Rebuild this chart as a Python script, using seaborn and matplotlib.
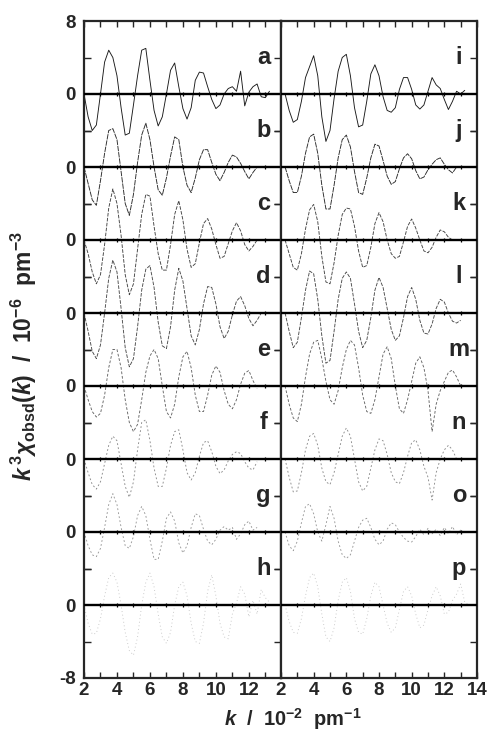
import numpy as np
import pandas as pd
import matplotlib
matplotlib.use("Agg")
import matplotlib.pyplot as plt
import seaborn as sns

# k grid in 10^-2 pm^-1 (left traces start at 2.00, right traces at 2.25)
k_grid = [2.00, 2.25, 2.50, 2.75, 3.00, 3.25, 3.50, 3.75, 4.00, 4.25,
          4.50, 4.75, 5.00, 5.25, 5.50, 5.75, 6.00, 6.25, 6.50, 6.75,
          7.00, 7.25, 7.50, 7.75, 8.00, 8.25, 8.50, 8.75, 9.00, 9.25,
          9.50, 9.75, 10.00, 10.25, 10.50, 10.75, 11.00, 11.25, 11.50, 11.75,
          12.00, 12.25, 12.50, 12.75, 13.00, 13.25, 13.50]

# k^3 chi(k), one list per trace
trace_a = [0, -2.5, -4.0, -3.4, 0, 3.5, 4.8, 4.0, 2.0, -1.5,
           -4.5, -4.3, -1.2, 2.0, 4.8, 5.0, 1.5, -1.8, -3.5, -2.5,
           0, 2.6, 3.4, 0.8, -1.6, -2.75, -1.5, 1.5, 2.4, 2.3,
           0.8, -0.6, -1.6, -1.2, 0, 0.6, 0.8, 0.3, 2.5, -1.3,
           0.2, 0.8, 1.1, -0.3, -0.4, 0.3]
trace_b = [0, -1.8, -3.6, -4.2, -1.5, 1.5, 4.0, 4.2, 3.0, -0.5,
           -4.0, -5.3, -3.0, 0.5, 3.5, 4.8, 3.0, 0, -2.5, -3.1,
           -1.2, 1.2, 3.3, 3.0, 0, -2.0, -2.8, -1.2, 0.8, 1.9,
           1.9, 0.5, -0.8, -1.5, -0.6, 0.5, 1.3, 1.1, 0.4, -0.5,
           -1.3, -0.6, 0]
trace_c = [0, -1.5, -3.5, -4.8, -3.8, -0.5, 3.5, 5.6, 4.0, 0.5,
           -3.8, -6.0, -4.8, -1.0, 2.8, 5.0, 4.8, 1.5, -1.5, -3.3,
           -3.3, -0.5, 2.8, 4.3, 2.2, -1.0, -3.0, -2.6, -0.3, 1.8,
           2.35, 1.2, -0.5, -2.0, -1.8, -0.4, 1.0, 1.9, 1.0, -0.5,
           -1.2, -0.7, 0]
trace_d = [0, -2.0, -4.2, -5.0, -3.5, 0, 3.8, 5.8, 4.5, 0.5,
           -3.8, -5.9, -5.0, -1.5, 2.5, 4.8, 5.2, 2.8, -1.0, -3.6,
           -3.9, -1.5, 2.5, 4.9, 3.5, 0.5, -2.5, -3.5, -1.8, 1.0,
           2.9, 2.8, 1.0, -1.5, -2.8, -2.0, -0.2, 1.3, 1.8, 0.8,
           -0.6, -1.4, -0.8, 0]
trace_e = [0, -1.5, -2.8, -3.4, -3.0, -1.0, 2.0, 4.0, 4.0, 2.0,
           -1.5, -4.0, -5.0, -4.2, -1.5, 1.5, 3.3, 4.0, 3.0, 0,
           -2.8, -3.5, -2.0, 1.0, 3.2, 3.8, 2.0, -1.0, -2.8, -2.8,
           -1.0, 1.2, 2.2, 1.5, -0.5, -2.0, -2.5, -1.5, 0.2, 1.4,
           1.7, 0.6, -0.3]
trace_f = [0, -1.5, -2.8, -3.3, -2.5, -0.5, 1.5, 2.5, 2.0, -0.5,
           -3.0, -4.2, -2.5, 1.0, 4.0, 4.3, 2.0, -1.0, -3.0, -3.0,
           -1.0, 1.5, 3.0, 3.2, 1.0, -1.5, -2.3, -1.5, 0.3, 1.8,
           2.0, 0.8, -0.8, -1.6, -1.2, -0.2, 0.5, 0.8, 0.6, -0.3,
           -1.0, -1.2, -0.3]
trace_g = [0, -1.5, -2.5, -2.7, -1.8, 0.5, 3.0, 4.2, 3.0, 0.5,
           -1.5, -1.8, -0.5, 1.8, 2.8, 1.8, -0.8, -3.0, -3.0, -1.0,
           1.5, 2.2, 1.2, -1.2, -2.3, -1.5, 0.5, 2.0, 1.8, 0.3,
           -1.0, -1.4, -0.8, 0.2, 0.6, 0.2, 0.5, -0.8, -0.2, 0.8,
           1.2, 0.2, 0.5]
trace_h = [0, -2.0, -3.2, -3.1, -1.5, 1.0, 3.0, 3.5, 2.5, 0,
           -3.0, -5.0, -5.5, -3.5, 0, 2.5, 3.5, 2.0, -1.0, -3.5,
           -4.2, -3.0, 0, 2.0, 2.5, 1.0, -2.0, -4.0, -4.2, -2.0,
           1.5, 3.3, 1.0, -2.0, -3.5, -3.7, -1.0, 0.2, 2.0, 1.2,
           -1.3, 0.5, -1.0, 1.7, 0.8, 0.3]

trace_i = [0, -1.8, -3.1, -2.8, -0.8, 1.8, 3.0, 4.2, 2.0, -2.5,
           -5.2, -4.0, -0.5, 2.5, 4.0, 4.35, 2.0, -1.5, -3.6, -3.4,
           -0.8, 2.2, 3.2, 2.0, -0.3, -1.8, -2.0, -1.5, 0.5, 1.8,
           1.8, 0.5, -1.2, -1.65, -1.2, 0.3, 1.8, 1.0, 0.6, -0.6,
           -1.7, -0.8, 0.3, 0.0, 0.4]
trace_j = [0, -1.5, -2.8, -2.8, -1.0, 1.5, 3.3, 3.6, 1.5, -2.0,
           -4.6, -4.6, -2.0, 1.0, 3.0, 3.5, 2.2, -0.5, -2.8, -3.0,
           -1.2, 1.0, 2.5, 2.3, 0.7, -1.0, -1.9, -1.6, -0.2, 1.0,
           1.45, 0.9, -0.4, -1.3, -1.1, -0.3, 0.3, 0.8, 1.0, 0.3,
           -0.3, -0.65, 0]
trace_k = [0, -1.5, -3.0, -3.3, -1.5, 1.2, 3.3, 3.9, 2.0, -1.8,
           -4.6, -4.8, -2.5, 0.5, 2.8, 3.5, 3.4, 1.5, -1.2, -3.0,
           -2.8, -0.8, 1.8, 3.0, 2.0, 0, -1.5, -2.0, -1.8, -0.2,
           1.5, 2.3, 1.3, 0, -1.2, -1.4, -0.8, 0.3, 1.1, 0.9,
           0.3, 0]
trace_l = [0, -2.0, -3.8, -3.2, -0.5, 2.5, 4.6, 4.3, 1.5, -2.5,
           -5.5, -5.2, -2.0, 1.5, 3.8, 4.5, 3.8, 1.0, -2.0, -3.8,
           -3.0, -0.5, 2.5, 3.9, 2.8, 0.5, -1.8, -3.0, -2.5, -0.5,
           1.8, 2.8, 1.5, -0.8, -2.2, -2.3, -1.2, 0.5, 1.5, 1.2,
           0, -0.9, -1.1, -0.8]
trace_m = [0, -2.0, -3.5, -3.9, -2.0, 1.0, 3.5, 4.8, 5.0, 3.0,
           0.5, -1.5, -2.0, -0.5, 2.0, 4.0, 5.0, 4.5, 2.0, -1.0,
           -2.8, -3.0, -1.5, 1.0, 3.5, 4.3, 3.0, 0, -2.5, -3.0,
           -1.5, 0.5, 2.5, 3.2, 2.0, -0.5, -5.0, -2.0, -0.5, 0.5,
           1.5, 1.75, 1.0, 0]
trace_n = [0, -2.0, -3.6, -3.5, -1.5, 1.0, 2.5, 2.8, 1.5, -1.0,
           -2.5, -2.8, -1.5, 0.5, 2.5, 3.4, 2.5, 0, -2.5, -3.5,
           -3.0, -1.0, 1.0, 2.2, 2.0, 0.5, -1.5, -2.5, -2.7, -1.5,
           0.3, 1.8, 2.1, 1.0, -0.8, -2.0, -4.5, -1.5, 0, 1.0,
           1.5, 1.0, 0]
trace_o = [0, -1.5, -2.05, -1.0, 1.0, 2.8, 3.1, 2.0, 0, -1.0,
           0.8, 2.8, 1.5, -1.0, -2.5, -2.9, -2.5, -1.0, 0.5, 1.3,
           1.5, 0.5, -0.8, -1.4, -1.0, 0.3, 1.0, 0.8, 0, -0.6,
           -1.0, -1.1, -0.5, 0.3, -0.3, 0.4, -0.2, 0.3, -0.4, 0.5,
           -0.2, 0.6, -0.3, 0.2, -0.1]
trace_p = [0, -1.8, -3.0, -3.1, -1.5, 1.0, 3.0, 3.5, 2.0, -1.0,
           -3.5, -4.0, -2.5, 0.5, 2.5, 3.0, 1.5, -1.5, -3.0, -3.2,
           -1.5, 1.0, 2.5, 2.0, 0, -2.0, -3.0, -2.5, -0.5, 1.5,
           2.0, 1.0, -1.0, -2.5, -2.2, -0.5, 1.0, 2.0, 1.0, -1.0,
           -0.8, 0.5, 1.2, 2.3, 0.3, 0]

left_traces = [trace_a, trace_b, trace_c, trace_d, trace_e, trace_f, trace_g, trace_h]
right_traces = [trace_i, trace_j, trace_k, trace_l, trace_m, trace_n, trace_o, trace_p]
left_letters = ["a", "b", "c", "d", "e", "f", "g", "h"]
right_letters = ["i", "j", "k", "l", "m", "n", "o", "p"]

step = 8  # vertical offset between traces
# the scanned traces get fainter and more broken further down
row_colors = ["#1a1a1a", "#2a2a2a", "#444444", "#4c4c4c", "#666666", "#8c8c8c", "#999999", "#c4c4c4"]
row_dashes = [(None, None), (6, 1), (4, 1.5), (4, 1.5), (3, 2), (2, 2.5), (2, 2.5), (1, 3)]

sns.set_style("ticks")
plt.rcParams["font.family"] = ["Liberation Sans", "DejaVu Sans"]
plt.rcParams["font.weight"] = "bold"
plt.rcParams["mathtext.fontset"] = "custom"
plt.rcParams["mathtext.rm"] = "Liberation Sans:bold"
plt.rcParams["mathtext.bf"] = "Liberation Sans:bold"
plt.rcParams["mathtext.it"] = "Liberation Sans:italic:bold"

fig = plt.figure(figsize=(4.88, 7.41), dpi=100)
ax1 = fig.add_axes([84 / 488, 63 / 741, 197 / 488, 657 / 741])
ax2 = fig.add_axes([281 / 488, 63 / 741, 196 / 488, 657 / 741], sharey=ax1)

n_rows = len(left_traces)
offsets = [-step * i for i in range(n_rows)]

for ax, traces, letters, kstart, xmax in [(ax1, left_traces, left_letters, 0, 13.95),
                                         (ax2, right_traces, right_letters, 1, 14.0)]:
    for i, (vals, lab) in enumerate(zip(traces, letters)):
        ks = k_grid[kstart:kstart + len(vals)]
        df = pd.DataFrame({"k": ks, "y": np.array(vals) + offsets[i]})
        line = sns.lineplot(data=df, x="k", y="y", ax=ax, color=row_colors[i], lw=0.65,
                            sort=False).lines[-1]
        if row_dashes[i][0] is not None:
            line.set_dashes(row_dashes[i])
        ax.axhline(offsets[i], color="black", lw=1.7, zorder=3)
        ax.plot(list(range(3, 14)), [offsets[i]] * 11, ls="none", marker="|",
                ms=3.5, mew=0.9, color="black")
        ax.text(12.9, offsets[i] + step / 2, lab, fontsize=17, fontweight="bold",
                ha="center", va="center")
    ax.set_xlim(2, xmax)
    ax.set_ylim(-step * n_rows, step)
    ax.set_xlabel("")
    ax.set_ylabel("")
    ax.set_xticks(list(range(2, 15, 2)) if xmax >= 14 else list(range(2, 13, 2)))
    ax.set_xticks(list(range(3, 14, 2)), minor=True)
    ax.tick_params(axis="x", which="both", direction="in", top=True, length=4, width=1,
                   labelsize=13.5, pad=3)
    ax.set_yticks([o + step / 2 for o in offsets] + [o - step / 2 for o in offsets], minor=True)
    for s in ax.spines.values():
        s.set_linewidth(1.6)
    for t in ax.get_xticklabels():
        t.set_fontweight("bold")

yt = [step] + offsets + [-step * n_rows]
ax1.set_yticks(yt)
ax1.set_yticklabels(["8"] + ["0"] * n_rows + ["-8"])
ax1.tick_params(axis="y", which="major", length=0, labelsize=13.5, pad=6)
ax1.tick_params(axis="y", which="minor", direction="in", left=True, right=True, length=5, width=1)
for t in ax1.get_yticklabels():
    t.set_fontweight("bold")
ax2.tick_params(axis="y", which="major", length=0, labelleft=False)
ax2.tick_params(axis="y", which="minor", direction="in", left=False, right=True, length=5, width=1)

fig.text(0.60, 0.030, r"$\mathit{k}$  /  10$^{-2}$  pm$^{-1}$", ha="center", va="center",
         fontsize=14.5, fontweight="bold")
fig.text(0.05, 0.52,
         r"$\mathit{k}^{\,3}\chi_{\rm obsd}(\mathit{k})$  /  10$^{-6}$  pm$^{-3}$",
         rotation=90, ha="center", va="center", fontsize=16.5, fontweight="bold")

fig.savefig("out.png", dpi=100)
